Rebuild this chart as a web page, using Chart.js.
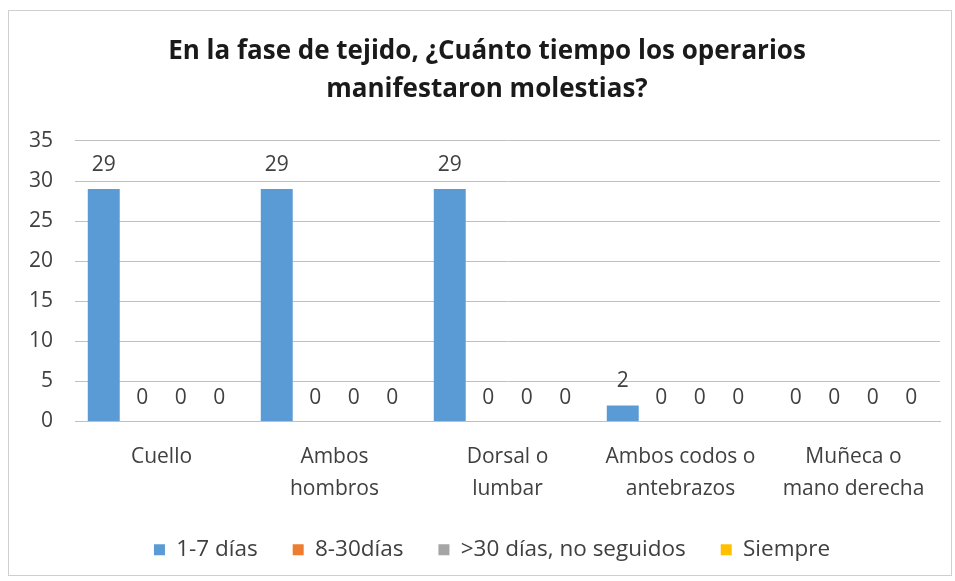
<!DOCTYPE html>
<html>
<head>
<meta charset="utf-8">
<script src="https://cdn.jsdelivr.net/npm/chart.js@4"></script>
<style>
  html, body { margin: 0; padding: 0; background: #ffffff; }
  #wrap { position: relative; width: 955px; height: 581px; }
  #frame { position: absolute; left: 8px; top: 10px; width: 944px; height: 566px;
           border: 1px solid #cfcfcf; box-sizing: border-box; pointer-events: none; }
  canvas { position: absolute; left: 0; top: 0; }
</style>
</head>
<body>
<div id="wrap">
  <canvas id="c" width="955" height="581"></canvas>
  <div id="frame"></div>
</div>
<script>
const titleLines = ['En la fase de tejido, ¿Cuánto tiempo los operarios', 'manifestaron molestias?'];
const categories = [['Cuello'], ['Ambos', 'hombros'], ['Dorsal o', 'lumbar'], ['Ambos codos o', 'antebrazos'], ['Muñeca o', 'mano derecha']];
const seriesNames = ['1-7 días', '8-30días', '>30 días, no seguidos', 'Siempre'];
const dias1a7 = [29, 29, 29, 2, 0];
const dias8a30 = [0, 0, 0, 0, 0];
const mas30 = [0, 0, 0, 0, 0];
const siempre = [0, 0, 0, 0, 0];
const seriesColors = ['#5B9BD5', '#ED7D31', '#A5A5A5', '#FFC000'];
const yTicks = [0, 5, 10, 15, 20, 25, 30, 35];

const FONT = '"Open Sans", Lato, sans-serif';
const TEXT = '#404040';

// Draws each bar's value just above its top edge.
const valueLabels = {
  id: 'valueLabels',
  afterDatasetsDraw(chart) {
    const ctx = chart.ctx;
    ctx.save();
    ctx.font = '21px ' + FONT;
    ctx.fillStyle = TEXT;
    ctx.textAlign = 'center';
    ctx.textBaseline = 'alphabetic';
    chart.data.datasets.forEach((ds, i) => {
      const meta = chart.getDatasetMeta(i);
      meta.data.forEach((bar, j) => {
        ctx.fillText(String(ds.data[j]), bar.x, bar.y - 18);
      });
    });
    ctx.restore();
  }
};

// Centres the title and legend on the whole frame rather than the plot column.
const recentre = {
  id: 'recentre',
  beforeDraw(chart) {
    if (chart.legend) { chart.legend.left += 17; chart.legend.right += 17; }
    if (chart.titleBlock) { chart.titleBlock.left += 12; chart.titleBlock.right += 12; }
  }
};

const seriesData = [dias1a7, dias8a30, mas30, siempre];

new Chart(document.getElementById('c'), {
  type: 'bar',
  data: {
    labels: categories,
    datasets: seriesNames.map((name, i) => ({
      label: name,
      data: seriesData[i],
      backgroundColor: seriesColors[i],
      borderWidth: 0,
      categoryPercentage: 0.89,
      barPercentage: 0.83
    }))
  },
  options: {
    responsive: false,
    animation: false,
    layout: { padding: { left: 10, right: 15, top: 25, bottom: 10 } },
    plugins: {
      title: {
        display: true,
        text: titleLines,
        color: '#1a1a1a',
        font: { family: FONT, size: 26, weight: 'bold', lineHeight: 1.46 },
        padding: { top: 8, bottom: 32 }
      },
      legend: {
        position: 'bottom',
        labels: {
          color: TEXT,
          font: { family: FONT, size: 22.5 },
          boxWidth: 11,
          boxHeight: 11,
          padding: 35
        }
      },
      tooltip: { enabled: false }
    },
    scales: {
      x: {
        grid: { display: false },
        border: { color: '#bfbfbf' },
        ticks: {
          color: TEXT,
          font: { family: FONT, size: 21, lineHeight: 1.5 },
          padding: 12,
          maxRotation: 0
        },
        afterFit(scale) { scale.height = 82; }
      },
      y: {
        min: 0,
        max: 35,
        afterBuildTicks(scale) { scale.ticks = yTicks.map(v => ({ value: v })); },
        grid: { color: '#bfbfbf', drawTicks: false },
        border: { display: false },
        ticks: {
          color: TEXT,
          font: { family: FONT, size: 21 },
          padding: 22
        },
        afterFit(scale) { scale.width = 65; }
      }
    }
  },
  plugins: [valueLabels, recentre]
});
</script>
</body>
</html>
